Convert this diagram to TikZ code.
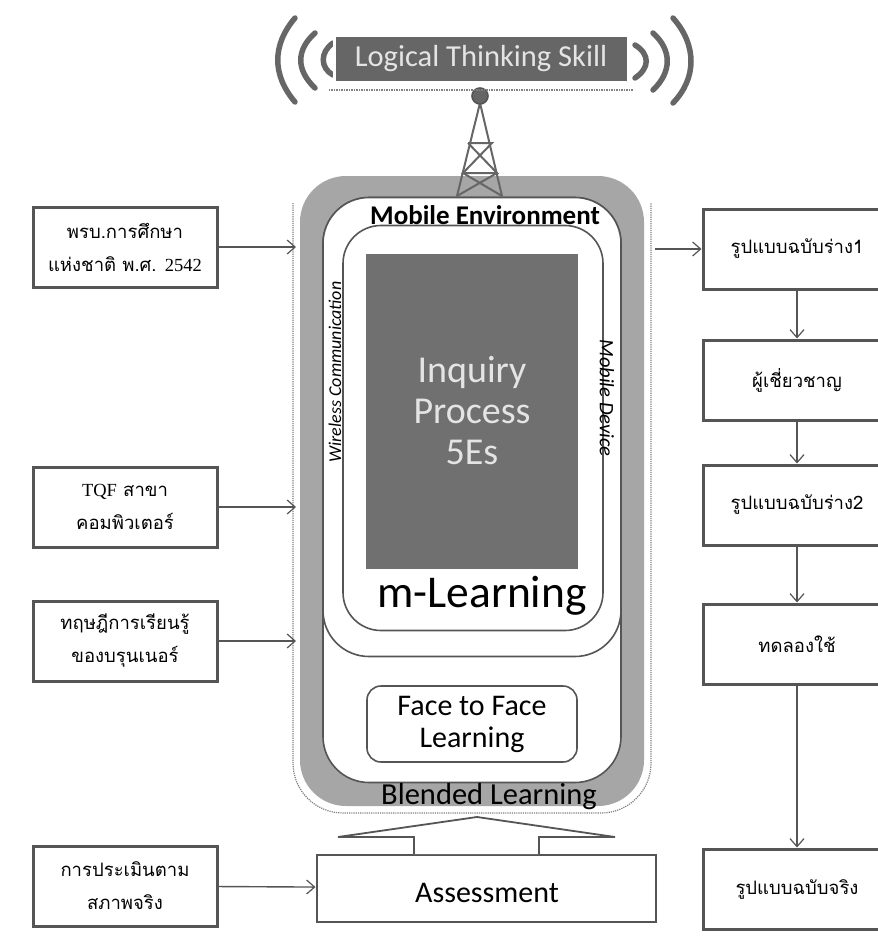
\documentclass[tikz,border=0pt]{standalone}
\usepackage{fontspec}
\setmainfont{Carlito}
\newfontfamily\thaifont[Script=Thai]{Loma}
\newfontfamily\serifpart{Liberation Serif}
\usetikzlibrary{arrows.meta}
\definecolor{framegray}{HTML}{A6A6A6}
\definecolor{boxgray}{HTML}{555555}
\definecolor{fillgray}{HTML}{666666}
\definecolor{coregray}{HTML}{707070}
\definecolor{palegray}{HTML}{E4E4E4}
\tikzset{
    sidebox/.style={draw=boxgray, line width=3pt, fill=white, minimum height=80pt, align=center, font=\thaifont\fontsize{18.5}{33}\selectfont},
    leftbox/.style={sidebox, minimum width=184pt},
    rightbox/.style={sidebox, minimum width=188pt},
    roundbox/.style={draw=boxgray, line width=1.6pt, fill=white, inner sep=0pt},
    flow/.style={draw=boxgray, line width=1.4pt, -{Straight Barb[length=8pt,width=14pt,line width=1.2pt]}},
    wave/.style={draw=fillgray, line width=5.5pt, line cap=round},
    tower/.style={draw=fillgray, line width=2pt},
}
\begin{document}
\begin{tikzpicture}[x=1pt,y=-1pt]
    \path[use as bounding box, clip] (0,0) rectangle (878,948);
    % frame
    \draw[gray, densely dotted, line width=1.2pt, rounded corners=50pt] (293,203) -- (293,813) -- (651,813) -- (651,203);
    \node[fill=framegray, rounded corners=46pt, minimum width=344pt, minimum height=630pt, inner sep=0pt] (frame) at (472,491) {};
    \node[roundbox, rounded corners=46pt, minimum width=298pt, minimum height=585pt] (blended) at (472,490) {};
    \node[roundbox, rounded corners=46pt, minimum width=298pt, minimum height=459pt] (mobile) at (472,427) {};
    \node[roundbox, rounded corners=38pt, minimum width=260pt, minimum height=405pt] (mlearn) at (473,428) {};
    \node[fill=coregray, minimum width=212pt, minimum height=315pt, inner sep=0pt, align=center, text=palegray, font=\fontsize{38}{41}\selectfont] (inquiry) at (472,411) {Inquiry\\Process\\5Es};
    \node[roundbox, rounded corners=14pt, minimum width=210pt, minimum height=76pt, align=center, font=\fontsize{30}{32}\selectfont] (face) at (472,724) {Face to Face\\Learning};
    % labels
    \node[font=\bfseries\fontsize{27}{29}\selectfont, inner sep=0pt] (mobilelabel) at (485,215) {Mobile Environment};
    \node[font=\fontsize{45.5}{48}\selectfont, inner sep=0pt] (mlabel) at (482,596) {m-Learning};
    \node[font=\fontsize{30.5}{33}\selectfont, inner sep=0pt] (blendedlabel) at (489,797) {Blended Learning};
    \node[rotate=90, font=\itshape\fontsize{18}{20}\selectfont] (wireless) at (335,372) {Wireless Communication};
    \node[rotate=-90, font=\itshape\fontsize{20.5}{22}\selectfont] (device) at (607,398) {Mobile Device};
    % tower
    \coordinate (top) at (480,103);
    \coordinate (bl) at (457,196);
    \coordinate (br) at (502,196);
    \draw[tower] (bl) -- (top) -- (br);
    \draw[tower] (468,143) -- (492,143) -- (463,173) -- (497,173) -- (468,143);
    \draw[tower] (463,173) -- (502,196);
    \draw[tower] (497,173) -- (457,196);
    \node[circle, draw=boxgray, fill=fillgray, line width=1.6pt, minimum size=16pt, inner sep=0pt] (ball) at (480,96) {};
    % signal
    \draw[wave] (295,18) .. controls (272,45) and (272,75) .. (295,102);
    \draw[wave] (315,33) .. controls (296,50) and (296,70) .. (315,88);
    \draw[wave] (333,43) .. controls (320,52) and (320,68) .. (333,75);
    \draw[wave] (635,45) .. controls (650,54) and (650,68) .. (635,78);
    \draw[wave] (653,33) .. controls (672,50) and (672,72) .. (653,90);
    \draw[wave] (673,18) .. controls (697,45) and (697,78) .. (673,103);
    \node[fill=fillgray, draw=white, line width=3pt, minimum width=294pt, minimum height=47pt, inner sep=0pt, text=palegray, font=\fontsize{30.5}{33}\selectfont] (skill) at (481,59) {Logical Thinking Skill};
    \draw[gray, densely dotted, line width=1.5pt] ([shift={(-4,6)}]skill.south west) -- ([shift={(4,6)}]skill.south east);
    % left column
    \node[leftbox] (law) at (125,247) {พรบ.การศึกษา\\แห่งชาติ พ.ศ. {\serifpart 2542}};
    \node[leftbox] (tqf) at (125,507) {{\serifpart TQF} สาขา\\คอมพิวเตอร์};
    \node[leftbox] (theory) at (125,641) {ทฤษฎีการเรียนรู้\\ของบรุนเนอร์};
    \node[leftbox] (eval) at (125,886) {การประเมินตาม\\สภาพจริง};
    % right column
    \node[rightbox] (draft) at (797,249) {รูปแบบฉบับร่าง1};
    \node[rightbox] (expert) at (797,380) {ผู้เชี่ยวชาญ};
    \node[rightbox] (drafttwo) at (797,505) {รูปแบบฉบับร่าง2};
    \node[rightbox] (trial) at (797,644) {ทดลองใช้};
    \node[rightbox] (final) at (797,889) {รูปแบบฉบับจริง};
    % assessment
    \node[draw=boxgray, line width=2pt, fill=white, minimum width=339pt, minimum height=67pt, inner sep=0pt] (assess) at (486,888) {};
    \node[font=\fontsize{30}{32}\selectfont, inner sep=0pt] (assesslabel) at (487,893) {Assessment};
    \draw[boxgray, line width=1.8pt, fill=white] (414,854) -- (414,837) -- (338,837) -- (477,817) -- (615,837) -- (539,837) -- (539,854);
    % connectors
    \coordinate (lawend) at (296,247);
    \coordinate (tqfend) at (296,507);
    \coordinate (theoryend) at (296,641);
    \coordinate (mobileout) at (655,249);
    \draw[flow] (law) -- (lawend);
    \draw[flow] (tqf) -- (tqfend);
    \draw[flow] (theory) -- (theoryend);
    \draw[flow] (eval) -- (assess);
    \draw[flow] (mobileout) -- (draft);
    \draw[flow] (draft) -- (expert);
    \draw[flow] (expert) -- (drafttwo);
    \draw[flow] (drafttwo) -- (trial);
    \draw[flow] (trial) -- (final);
\end{tikzpicture}
\end{document}
